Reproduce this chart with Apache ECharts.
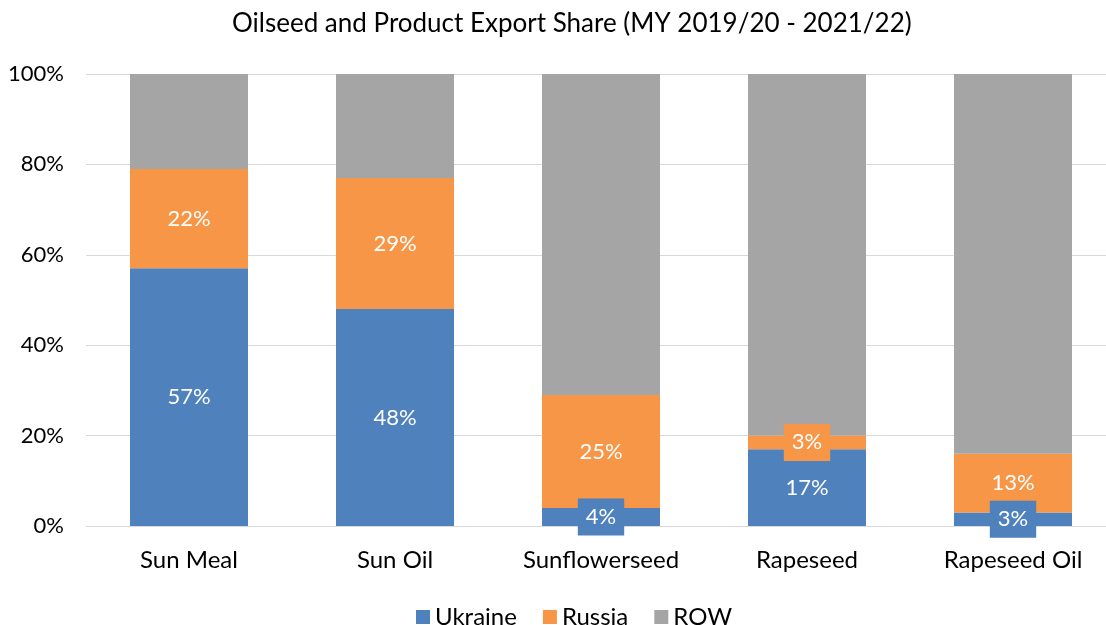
<!DOCTYPE html>
<html>
<head>
<meta charset="utf-8">
<script src="https://cdn.jsdelivr.net/npm/echarts@6/dist/echarts.min.js"></script>
<style>
  html, body { margin: 0; padding: 0; background: #ffffff; overflow: hidden; }
  /* canvas a bit wider than the window: the plot area runs past the right edge, as in the original */
  #chart { width: 1116px; height: 625px; }
</style>
</head>
<body>
<div id="chart"></div>
<script>
const categories = ['Sun Meal', 'Sun Oil', 'Sunflowerseed', 'Rapeseed', 'Rapeseed Oil'];
const ukraine = [57, 48, 4, 17, 3];
const russia = [22, 29, 25, 3, 13];
const row = [21, 23, 71, 80, 84];
const yTicks = [0, 20, 40, 60, 80, 100];

const FONT = 'Lato, "Open Sans", sans-serif';
const colors = { Ukraine: '#4F81BD', Russia: '#F79646', ROW: '#A5A5A5' };

// small slices get a filled box behind the label, like Excel does
function withLabels(values, color) {
    return values.map(v => {
        if (v >= 10) return v;
        return {
            value: v,
            label: { backgroundColor: color, padding: [8, 8, 7, 8] }
        };
    });
}

const myChart = echarts.init(document.getElementById('chart'));

const labelStyle = {
    show: true,
    position: 'inside',
    formatter: '{c}%',
    color: '#ffffff',
    fontSize: 22,
    fontFamily: FONT
};

myChart.setOption({
    animation: false,
    title: {
        text: 'Oilseed and Product Export Share (MY 2019/20 - 2021/22)',
        left: 227,
        top: 6,
        textStyle: { fontFamily: FONT, fontSize: 26, fontWeight: 'normal', color: '#000000' }
    },
    legend: {
        top: 600,
        left: 411,
        itemWidth: 14,
        itemHeight: 14,
        itemGap: 26,
        icon: 'rect',
        textStyle: { fontFamily: FONT, fontSize: 24, color: '#000000' },
        data: ['Ukraine', 'Russia', 'ROW']
    },
    grid: { left: 86, right: 0, top: 74, bottom: 99, containLabel: false },
    xAxis: {
        type: 'category',
        data: categories,
        axisLine: { show: true, lineStyle: { color: '#D9D9D9', width: 1 } },
        axisTick: { show: false },
        axisLabel: { fontFamily: FONT, fontSize: 24, color: '#000000', margin: 22 }
    },
    yAxis: {
        type: 'value',
        min: 0,
        max: 100,
        interval: 20,
        axisLine: { show: false },
        axisTick: { show: false },
        splitLine: { lineStyle: { color: '#D9D9D9', width: 1 } },
        axisLabel: {
            fontFamily: FONT, fontSize: 22, color: '#000000', margin: 22,
            formatter: v => yTicks.includes(v) ? v + '%' : ''
        }
    },
    series: [
        {
            name: 'Ukraine', type: 'bar', stack: 'total', barWidth: 118,
            itemStyle: { color: colors.Ukraine },
            label: labelStyle,
            data: withLabels(ukraine, colors.Ukraine)
        },
        {
            name: 'Russia', type: 'bar', stack: 'total', barWidth: 118,
            itemStyle: { color: colors.Russia },
            label: labelStyle,
            data: withLabels(russia, colors.Russia)
        },
        {
            name: 'ROW', type: 'bar', stack: 'total', barWidth: 118,
            itemStyle: { color: colors.ROW },
            data: row
        }
    ]
});
</script>
</body>
</html>
